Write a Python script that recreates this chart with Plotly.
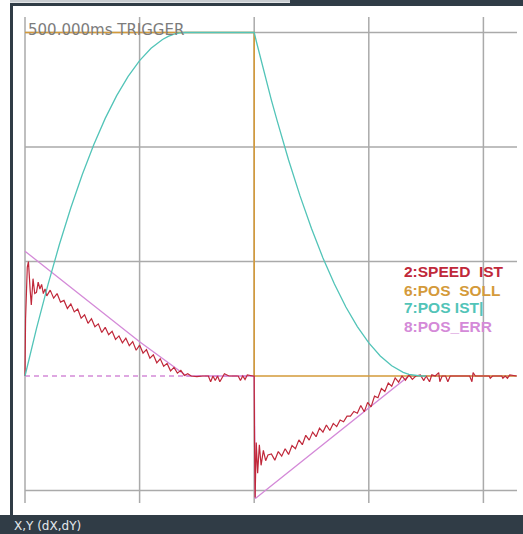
import plotly.graph_objects as go

# ---- channel data (x in time divisions, y in screen divisions) ----
speed_x = [0.0, 0.005, 0.02, 0.03, 0.045, 0.055, 0.07, 0.085, 0.1, 0.115, 0.13, 0.145, 0.16, 0.175, 0.19,
           0.22, 0.25, 0.28, 0.31, 0.34, 0.37, 0.40, 0.43, 0.46, 0.49, 0.52, 0.55, 0.58, 0.61, 0.64,
           0.67, 0.70, 0.73, 0.76, 0.79, 0.82, 0.85, 0.88, 0.91, 0.94, 0.97, 1.00, 1.03, 1.06, 1.09,
           1.12, 1.15, 1.18, 1.21, 1.24, 1.27, 1.30, 1.33, 1.36, 1.39, 1.42, 1.45, 1.50, 1.55, 1.60,
           1.62, 1.64, 1.66, 1.68, 1.70, 1.72, 1.74, 1.78, 1.86, 1.88, 1.90, 1.92, 1.94, 1.99, 2.0,
           2.003, 2.008, 2.018, 2.03, 2.045, 2.06, 2.08, 2.10, 2.12,
           2.15, 2.18, 2.21, 2.24, 2.27, 2.30, 2.33, 2.36, 2.39, 2.42, 2.45, 2.48, 2.51, 2.54, 2.57,
           2.60, 2.63, 2.66, 2.69, 2.72, 2.75, 2.78, 2.81, 2.84, 2.87, 2.90, 2.93, 2.96, 2.99, 3.02,
           3.05, 3.08, 3.11, 3.14, 3.17, 3.20, 3.23, 3.26, 3.29, 3.32, 3.35, 3.38, 3.41, 3.45, 3.48,
           3.50, 3.53, 3.55, 3.58, 3.61, 3.62, 3.64, 3.67, 3.69, 3.71, 3.88, 3.90, 3.91, 3.93, 4.05,
           4.06, 4.08, 4.16, 4.17, 4.19, 4.21, 4.23, 4.29]
speed_y = [0.0, 0.5, 0.95, 1.0, 0.75, 0.62, 0.85, 0.72, 0.73, 0.82, 0.76, 0.80, 0.72, 0.76, 0.70,
           0.75, 0.68, 0.72, 0.645, 0.66, 0.59, 0.63, 0.56, 0.585, 0.505, 0.535, 0.46, 0.50, 0.43, 0.455,
           0.38, 0.425, 0.36, 0.39, 0.32, 0.35, 0.29, 0.33, 0.265, 0.30, 0.225, 0.27, 0.20, 0.23, 0.155,
           0.185, 0.115, 0.15, 0.085, 0.11, 0.045, 0.075, 0.025, 0.05, 0.005, 0.02, 0.0, -0.005, 0.0, 0.0,
           -0.05, 0.0, -0.04, 0.0, -0.05, -0.01, 0.02, 0.0, 0.0, -0.04, 0.0, -0.03, 0.01, 0.0, 0.0,
           -0.6, -1.06, -0.58, -0.85, -0.6, -0.78, -0.65, -0.74, -0.69,
           -0.68, -0.735, -0.66, -0.70, -0.635, -0.685, -0.607, -0.635, -0.558, -0.60, -0.518, -0.56, -0.49, -0.53, -0.455,
           -0.49, -0.428, -0.476, -0.414, -0.442, -0.385, -0.40, -0.35, -0.35, -0.31, -0.325, -0.257, -0.313, -0.23, -0.27,
           -0.176, -0.19, -0.11, -0.136, -0.062, -0.089, -0.016, -0.053, 0.0, -0.036, 0.01, -0.03, 0.0, 0.01, -0.04,
           0.0, -0.05, 0.01, 0.0, 0.03, -0.05, 0.0, 0.0, -0.05, 0.0, 0.0, -0.05, 0.03, 0.0, 0.0,
           -0.02, 0.0, 0.0, -0.02, 0.0, -0.02, 0.01, 0.0]

pos_soll_x = [0.0, 2.0, 2.0, 4.29]
pos_soll_y = [3.0, 3.0, 0.0, 0.0]

pos_ist_x = [0.0, 0.1, 0.2, 0.3, 0.4, 0.5, 0.6, 0.7, 0.8, 0.9, 1.0, 1.1, 1.2, 1.25, 1.3, 1.35, 1.4, 2.0,
             2.02, 2.05, 2.1, 2.15, 2.2, 2.3, 2.4, 2.5, 2.6, 2.7, 2.8, 2.9, 3.0, 3.1, 3.2, 3.3, 3.35,
             3.4, 3.45, 3.5]
pos_ist_y = [0.0, 0.413, 0.796, 1.148, 1.469, 1.760, 2.020, 2.250, 2.449, 2.617, 2.755, 2.862, 2.939, 2.966,
             2.985, 2.996, 3.0, 3.0,
             2.917, 2.797, 2.600, 2.410, 2.230, 1.887, 1.573, 1.288, 1.031, 0.803, 0.603, 0.432, 0.289,
             0.175, 0.089, 0.032, 0.014, 0.004, 0.0, 0.0]

pos_err_x = [0.0, 1.0, 1.41, 2.0, 2.0, 2.01, 3.35, 4.29]
pos_err_y = [1.09, 0.30, 0.0, 0.0, 0.0, -1.07, 0.0, 0.0]

legend_labels = ["2:SPEED\u00a0\u00a0IST", "6:POS\u00a0\u00a0SOLL", "7:POS\u00a0IST|", "8:POS_ERR"]
trigger_label = "500.000ms TRIGGER"
status_label = "X,Y (dX,dY)"

grid_x = [0, 1, 2, 3, 4]
grid_y = [-1, 1, 2, 3]          # the zero row is drawn by the dashed reference instead

# ---- colours ----
C_SPEED = "#c0283a"
C_SOLL = "#d49a3a"
C_IST = "#52c4b8"
C_ERR = "#d48ad8"
C_GRID = "#aaaaaa"
C_FRAME = "#303c46"

# ---- geometry ----
W, H = 523, 534
ML, MR, MT, MB = 12, 0, 7, 20
X0_PX, DX_PX = 25.0, 114.6     # pixel of x=0, pixels per division
Y0_PX, DY_PX = 376.0, 114.5    # pixel of y=0, pixels per division

x_range = [(ML - X0_PX) / DX_PX, (W - MR - X0_PX) / DX_PX]
y_range = [(Y0_PX - (H - MB)) / DY_PX, (Y0_PX - MT) / DY_PX]

pw, ph = W - ML - MR, H - MT - MB


def px(xp):
    return (xp - ML) / pw


def py(yp):
    return (H - MB - yp) / ph


fig = go.Figure()

fig.add_trace(go.Scatter(x=pos_err_x, y=pos_err_y, mode="lines",
                         line=dict(color=C_ERR, width=1.3), showlegend=False))
fig.add_trace(go.Scatter(x=pos_soll_x, y=pos_soll_y, mode="lines",
                         line=dict(color=C_SOLL, width=1.6), showlegend=False))
fig.add_trace(go.Scatter(x=speed_x, y=speed_y, mode="lines",
                         line=dict(color=C_SPEED, width=1.2), showlegend=False))
fig.add_trace(go.Scatter(x=pos_ist_x, y=pos_ist_y, mode="lines",
                         line=dict(color=C_IST, width=1.3), showlegend=False))

shapes = []
grid_top = (Y0_PX - 17) / DY_PX
grid_bot = (Y0_PX - 503) / DY_PX
grid_right = (517 - X0_PX) / DX_PX
for gx in grid_x:
    shapes.append(dict(type="line", xref="x", yref="y", x0=gx, x1=gx, y0=grid_bot, y1=grid_top,
                       line=dict(color=C_GRID, width=1.5), layer="below"))
for gy in grid_y:
    shapes.append(dict(type="line", xref="x", yref="y", x0=0, x1=grid_right, y0=gy, y1=gy,
                       line=dict(color=C_GRID, width=1.5), layer="below"))
# dashed error zero reference
shapes.append(dict(type="line", xref="x", yref="y", x0=0, x1=2, y0=0, y1=0,
                   line=dict(color=C_ERR, width=1.4, dash="5px,4px"), layer="below"))

# window frame
shapes.append(dict(type="rect", xref="paper", yref="paper", x0=px(0), x1=px(W), y0=py(515), y1=py(H),
                   fillcolor=C_FRAME, line=dict(width=0)))
shapes.append(dict(type="rect", xref="paper", yref="paper", x0=px(10), x1=px(13), y0=py(515), y1=py(3),
                   fillcolor=C_FRAME, line=dict(width=0)))
shapes.append(dict(type="rect", xref="paper", yref="paper", x0=px(10), x1=px(W), y0=py(6), y1=py(3),
                   fillcolor=C_FRAME, line=dict(width=0)))
shapes.append(dict(type="rect", xref="paper", yref="paper", x0=px(10), x1=px(290), y0=py(2.5), y1=py(0),
                   fillcolor="#c8ccd0", line=dict(width=0)))
shapes.append(dict(type="rect", xref="paper", yref="paper", x0=px(290), x1=px(W), y0=py(3), y1=py(0),
                   fillcolor=C_FRAME, line=dict(width=0)))

annotations = []
leg_colors = [C_SPEED, C_SOLL, C_IST, C_ERR]
leg_y = [271, 290, 308, 326]
for lab, col, ly in zip(legend_labels, leg_colors, leg_y):
    annotations.append(dict(text=lab, xref="paper", yref="paper", x=px(402), y=py(ly),
                            xanchor="left", yanchor="middle", showarrow=False,
                            font=dict(family="Liberation Sans", size=15.5, color=col, weight="bold")))
annotations.append(dict(text=trigger_label, xref="paper", yref="paper", x=px(26), y=py(30),
                        xanchor="left", yanchor="middle", showarrow=False,
                        font=dict(family="DejaVu Sans", size=15, color="#7c7c7c")))
annotations.append(dict(text=status_label, xref="paper", yref="paper", x=px(12), y=py(526),
                        xanchor="left", yanchor="middle", showarrow=False,
                        font=dict(family="DejaVu Sans", size=12, color="#e4e8ec")))

fig.update_layout(
    width=W, height=H,
    margin=dict(l=ML, r=MR, t=MT, b=MB, pad=0),
    paper_bgcolor="white", plot_bgcolor="white",
    xaxis=dict(range=x_range, showgrid=False, zeroline=False, showticklabels=False,
               showline=False, ticks="", fixedrange=True),
    yaxis=dict(range=y_range, showgrid=False, zeroline=False, showticklabels=False,
               showline=False, ticks="", fixedrange=True),
    shapes=shapes, annotations=annotations, showlegend=False,
)

fig.write_html("out.html")
